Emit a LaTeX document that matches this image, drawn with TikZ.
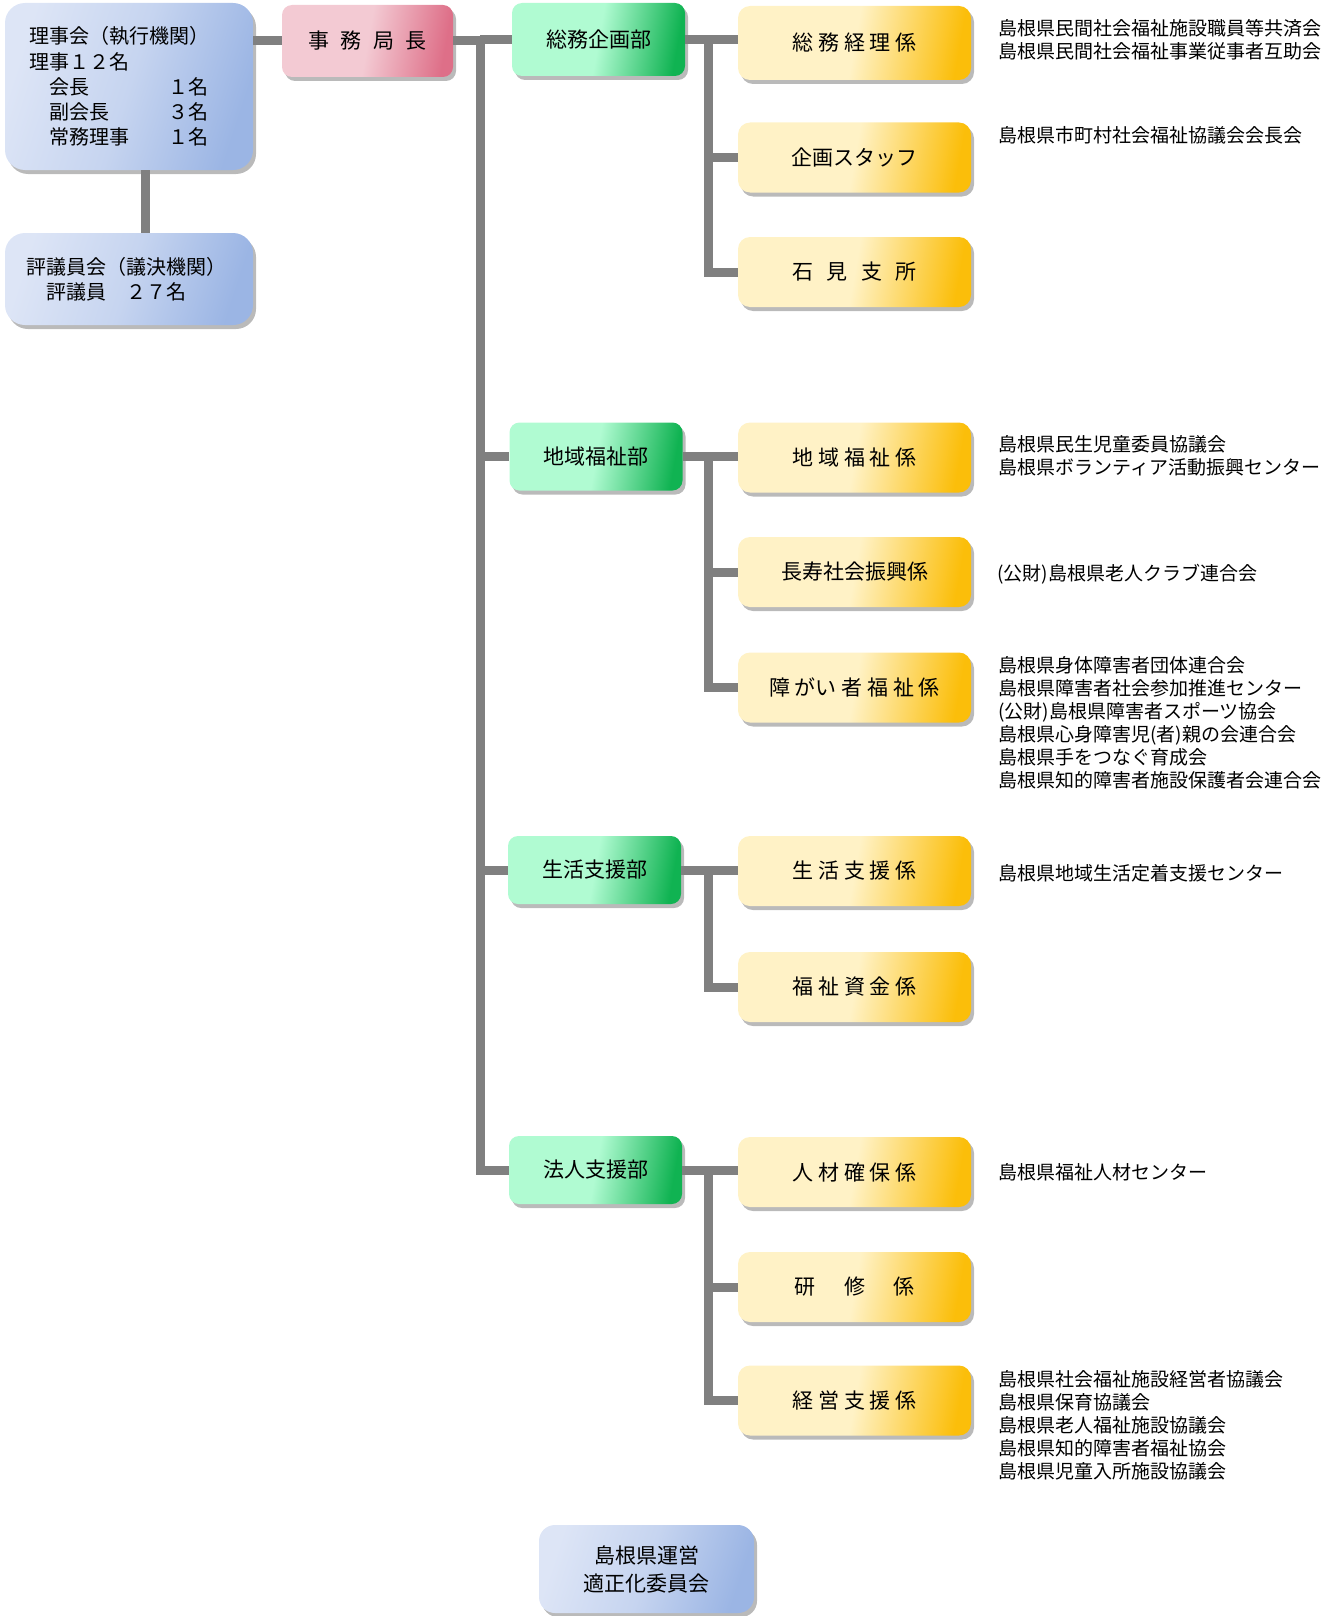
\documentclass[tikz,border=0pt]{standalone}
\usepackage{fontspec}
\setmainfont{Noto Sans CJK JP}
\usetikzlibrary{shadows}
\usepackage{xcolor}
\definecolor{boardL}{HTML}{DDE5F6}
\definecolor{boardR}{HTML}{9BB5E4}
\definecolor{chiefL}{HTML}{F3CAD3}
\definecolor{chiefR}{HTML}{DE6F88}
\definecolor{deptL}{HTML}{B0FBD2}
\definecolor{deptR}{HTML}{10B352}
\definecolor{secL}{HTML}{FFF2C6}
\definecolor{secR}{HTML}{FBBE0A}
\definecolor{linegray}{HTML}{808080}

\begin{document}
\begin{tikzpicture}[x=0.5pt,y=-0.5pt,
box/.style={
	rectangle, rounded corners=5pt, inner sep=0pt,
	drop shadow={shadow xshift=1.5pt, shadow yshift=-2pt, fill=black!60, opacity=0.45},
	font=\fontsize{10.5}{12}\selectfont,
},
board/.style={box, rounded corners=10pt,
	left color=boardL, right color=boardR, middle color=boardL!65!boardR, shading angle=72,
	minimum width=124pt, align=left, font=\fontsize{10}{12.6}\selectfont,
},
chief/.style={box, left color=chiefL, right color=chiefR, middle color=chiefL, shading angle=80,
	minimum width=85.5pt, minimum height=36pt,
},
dept/.style={box, left color=deptL, right color=deptR, middle color=deptL, shading angle=80,
	minimum width=86.5pt, minimum height=34pt,
},
section/.style={box, rounded corners=6pt,
	left color=secL, right color=secR, middle color=secL, shading angle=80,
	minimum width=116.5pt, minimum height=35pt,
},
note/.style={anchor=west, align=left, inner sep=0pt, font=\fontsize{9.5}{11.5}\selectfont},
conn/.style={draw=linegray, line width=4.5pt},
]
\useasboundingbox (0,0) rectangle (1338,1616);

% board and council
\node[board, text width=100pt, inner xsep=12pt, minimum height=83.5pt] (rijikai) at (129,86.5) {
    理事会（執行機関）\\
    理事１２名\\
    \hspace*{1em}\makebox[6em][l]{会長}１名\\
    \hspace*{1em}\makebox[6em][l]{副会長}３名\\
    \hspace*{1em}\makebox[6em][l]{常務理事}１名
    };
\node[board, text width=103pt, inner xsep=10.5pt, minimum height=46pt] (hyogiin) at (129,279) {
    評議員会（議決機関）\\
    \hspace*{1em}評議員　２７名
    };
\node[chief] (jimu) at (367.5,41) {事\hspace{.55em}務\hspace{.55em}局\hspace{.55em}長};

% departments
\node[dept, minimum height=36.5pt] (soumu) at (598.5,39.5) {総務企画部};
\node[dept] (chiiki) at (596,456.5) {地域福祉部};
\node[dept] (seikatsu) at (594.5,870) {生活支援部};
\node[dept] (houjin) at (595.5,1170) {法人支援部};

% sections
\node[section, minimum height=37pt] (keiri) at (854.5,43) {総 務 経 理 係};
\node[section] (staff) at (854.5,157.5) {企画スタッフ};
\node[section] (iwami) at (854.5,272) {石\hspace{.65em}見\hspace{.65em}支\hspace{.65em}所};
\node[section] (chiikik) at (854.5,457.5) {地 域 福 祉 係};
\node[section] (choju) at (854.5,572) {長寿社会振興係};
\node[section] (shogai) at (854.5,687.5) {障 がい 者 福 祉 係};
\node[section] (seikatsuk) at (854.5,871) {生 活 支 援 係};
\node[section] (shikin) at (854.5,987) {福 祉 資 金 係};
\node[section] (jinzai) at (854.5,1172) {人 材 確 保 係};
\node[section] (kenshu) at (854.5,1287) {研\hspace{1.35em}修\hspace{1.35em}係};
\node[section] (keiei) at (854.5,1400.5) {経 営 支 援 係};

\node[board, rounded corners=8pt, align=center, minimum width=107.5pt, minimum height=44pt,
    font=\fontsize{10.5}{14}\selectfont] (unei) at (646.5,1569) {島根県運営\\適正化委員会};

% related bodies
\node[note] (keirinote) at (998,40) {島根県民間社会福祉施設職員等共済会\\島根県民間社会福祉事業従事者互助会};
\node[note] (staffnote) at (998,135) {島根県市町村社会福祉協議会会長会};
\node[note] (chiikinote) at (998,456) {島根県民生児童委員協議会\\島根県ボランティア活動振興センター};
\node[note] (chojunote) at (997,574) {(公財)島根県老人クラブ連合会};
\node[note] (shogainote) at (998,722.5) {
    島根県身体障害者団体連合会\\
    島根県障害者社会参加推進センター\\
    (公財)島根県障害者スポーツ協会\\
    島根県心身障害児(者)親の会連合会\\
    島根県手をつなぐ育成会\\
    島根県知的障害者施設保護者会連合会
    };
\node[note] (seikatsunote) at (998,873) {島根県地域生活定着支援センター};
\node[note] (jinzainote) at (998,1172) {島根県福祉人材センター};
\node[note] (keieinote) at (998,1425) {
    島根県社会福祉施設経営者協議会\\
    島根県保育協議会\\
    島根県老人福祉施設協議会\\
    島根県知的障害者福祉協会\\
    島根県児童入所施設協議会
    };

% connectors
\coordinate (vline) at (145,0);
\coordinate (trunk) at (480,0);
\coordinate (fork) at (708,0);

\draw[conn] (rijikai.east |- jimu.west) -- (jimu.west);
\draw[conn] (vline |- rijikai.south) -- (vline |- hyogiin.north);
\draw[conn] (jimu.east) -| (trunk |- houjin.west) -- (houjin.west);
\draw[conn] (trunk |- soumu.west) -- (soumu.west);
\draw[conn] (trunk |- chiiki.west) -- (chiiki.west);
\draw[conn] (trunk |- seikatsu.west) -- (seikatsu.west);

\draw[conn] (soumu.east) -- (keiri.west |- soumu.east);
\draw[conn] (fork |- soumu.east) |- (iwami.west);
\draw[conn] (fork |- staff.west) -- (staff.west);

\draw[conn] (chiiki.east) -- (chiikik.west |- chiiki.east);
\draw[conn] (fork |- chiiki.east) |- (shogai.west);
\draw[conn] (fork |- choju.west) -- (choju.west);

\draw[conn] (seikatsu.east) -- (seikatsuk.west |- seikatsu.east);
\draw[conn] (fork |- seikatsu.east) |- (shikin.west);

\draw[conn] (houjin.east) -- (jinzai.west |- houjin.east);
\draw[conn] (fork |- houjin.east) |- (keiei.west);
\draw[conn] (fork |- kenshu.west) -- (kenshu.west);
\end{tikzpicture}
\end{document}
